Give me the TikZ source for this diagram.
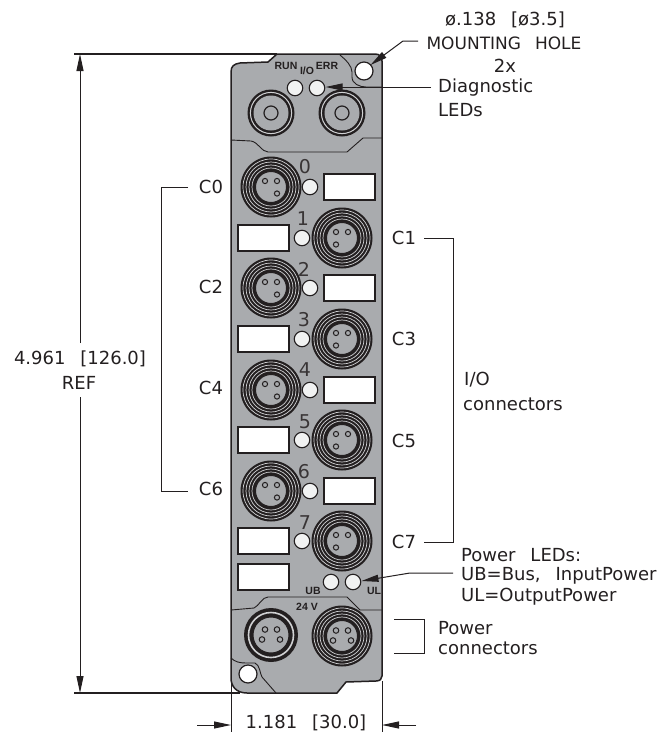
\documentclass[tikz,border=0pt]{standalone}
\usepackage{fontspec}
\setmainfont[WordSpace=2.6]{DejaVu Sans}
\newfontfamily\lblbold{Liberation Sans}
\usetikzlibrary{arrows.meta}
\definecolor{ink}{HTML}{231F20}
\definecolor{body}{HTML}{A9ABAE}
\definecolor{ledw}{HTML}{F1F2F2}
\definecolor{ringl}{HTML}{D0D1D3}
\tikzset{
 x=1pt,y=-1pt,
 dim/.style={draw=ink,line width=1pt},
 heavy/.style={draw=ink,line width=1.4pt},
 tip/.style={-{Triangle[length=17pt,width=7pt]}},
 lbl/.style={font=\fontsize{18}{18}\selectfont,text=ink,inner sep=0pt},
 lft/.style={lbl,anchor=west},
 tag/.style={font=\lblbold\bfseries\fontsize{10.5}{10.5}\selectfont,text=ink,inner sep=0pt},
 dig/.style={font=\fontsize{19}{19}\selectfont,text=ink!90,inner sep=0pt},
 led/.style={circle,draw=ink,line width=1.1pt,fill=ledw,minimum size=15.5pt,inner sep=0pt},
 slot/.style={draw=ink,line width=1.2pt,fill=white,minimum width=51pt,minimum height=26pt,inner sep=0pt},
 seam/.style={draw=ink,line width=.9pt,line join=round},
 pin/.style={draw=ink,line width=1pt,fill=body},
}
% #1 name, #2 x, #3 y, #4 x of the odd pin
\newcommand{\mconn}[4]{%
 \coordinate (#1) at (#2,#3);
 \fill[ink] (#2,#3) circle[radius=30.5];
 \foreach \r in {28,25,22,19}{\draw[ringl,line width=.7pt] (#2,#3) circle[radius=\r];}
 \fill[body] (#2,#3) circle[radius=15.5];
 \draw[ink,line width=1pt] (#2,#3) circle[radius=15.5];
 \draw[pin] ({#2-6},{#3-6}) circle[radius=2.6];
 \draw[pin] ({#2+6},{#3-6}) circle[radius=2.6];
 \draw[pin] ({#2+#4},{#3+6.5}) circle[radius=2.6];
}
\newcommand{\pins}[2]{%
 \foreach \a/\b in {-6/-5.5,6/-5.5,-9/4.5,9/4.5}{\draw[pin] ({#1+\a},{#2+\b}) circle[radius=2.8];}
}
\newcommand{\bigconn}[3]{%
 \coordinate (#1) at (#2,#3);
 \fill[ink] (#2,#3) circle[radius=23.5];
 \draw[ringl,line width=1pt] (#2,#3) circle[radius=20.6];
 \fill[body] (#2,#3) circle[radius=17.5];
 \draw[ink,line width=1.2pt,fill=body] (#2,#3) circle[radius=7];
}
\begin{document}
\begin{tikzpicture}
\useasboundingbox (0,0) rectangle (663,732);
% housing
\path[draw=ink,line width=1.5pt,fill=body,line join=round]
 (231,72) .. controls (231,66) and (234,64) .. (240,63) -- (268,62) -- (277,54) -- (375,54)
 .. controls (380,54) and (382,57) .. (382,61) -- (382,676)
 .. controls (382,679) and (380,681) .. (376,681) -- (346,682) -- (337,693) -- (247,693)
 .. controls (236,693) and (231,686) .. (231,678) -- cycle;
\draw[seam] (231,140) -- (251,141) .. controls (258,142) and (262,152) .. (268,152) -- (347,152) -- (363,138) -- (382,138);
\draw[seam] (340,55) .. controls (346,60) and (352,66) .. (352,72) -- (352,77) .. controls (352,84) and (360,87) .. (366,87) -- (382,87);
\draw[seam] (231,610) -- (254,608) .. controls (259,606) and (262,597) .. (268,597) -- (347,597) -- (360,610) -- (382,610);
\draw[seam] (231,658) .. controls (235,662) and (240,663) .. (246,663) -- (255,663) .. controls (260,665) and (260,674) .. (262,677) -- (276,693);
% top panel
\node[circle,draw=ink,line width=1.2pt,fill=white,minimum size=18pt,inner sep=0pt] (holeA) at (364,71) {};
\node[circle,draw=ink,line width=1.2pt,fill=white,minimum size=18pt,inner sep=0pt] (holeB) at (248,674) {};
\bigconn{topL}{271}{113}
\bigconn{topR}{342}{113}
\node[led] (run) at (295,88) {};
\node[led] (err) at (317,88) {};
\node[tag] (tagRun) at (286,66) {RUN};
\node[tag] (tagIO) at (307,71) {I/O};
\node[tag] (tagErr) at (327,66) {ERR};
% I/O connectors
\mconn{c0}{271}{187}{6}
\mconn{c2}{271}{288}{6}
\mconn{c4}{271}{390}{6}
\mconn{c6}{271}{491}{6}
\mconn{c1}{342}{238}{-6}
\mconn{c3}{342}{339}{-6}
\mconn{c5}{342}{440}{-6}
\mconn{c7}{342}{541}{-6}
\foreach \n/\y in {0/187,2/288,4/390,6/491}{
 \node[led] (led\n) at (310,\y) {};
 \node[slot] (slot\n) at (349.5,\y) {};
}
\foreach \n/\y in {1/238,3/339,5/440,7/541}{
 \node[led] (led\n) at (302,\y) {};
 \node[slot] (slot\n) at (263.5,\y) {};
}
\node[slot] (slot8) at (263.5,577) {};
\foreach \n/\x/\y in {0/305/167,1/303/219,2/304/269,3/304/320,4/305/370,5/305/422,6/304/472,7/305/523}{
 \node[dig] (dig\n) at (\x,\y) {\n};
}
% power area
\node[led] (ub) at (331,582) {};
\node[led] (ul) at (353,582) {};
\node[tag] (tagUB) at (313,591) {UB};
\node[tag] (tagUL) at (374,591) {UL};
\node[tag] (tag24) at (307,607) {24 V};
\coordinate (pwrL) at (271,635);
\fill[ink] (pwrL) circle[radius=27];
\draw[ringl,line width=1.6pt] (pwrL) circle[radius=22.5];
\fill[body] (pwrL) circle[radius=18];
\draw[ink,line width=1pt] (pwrL) circle[radius=18];
\pins{271}{635}
\coordinate (pwrR) at (342,636);
\fill[ink] (pwrR) circle[radius=30.5];
\foreach \r in {28,25,22,19}{\draw[ringl,line width=.7pt] (pwrR) circle[radius=\r];}
\fill[body] (pwrR) circle[radius=15.5];
\draw[ink,line width=1pt] (pwrR) circle[radius=15.5];
\pins{342}{636}
% labels
\node[lbl] (hole1) at (505,20) {ø.138 [ø3.5]};
\node[lbl,font=\fontsize{17}{17}\selectfont] (hole2) at (504,43) {MOUNTING HOLE};
\node[lbl] (hole3) at (505,66) {2x};
\node[lft] (diag1) at (438,88) {Diagnostic};
\node[lft] (diag2) at (438,110) {LEDs};
\foreach \n/\x/\y in {C0/211/187,C2/211/287,C4/211/388,C6/211/489,C1/404/238,C3/404/339,C5/404/441,C7/404/542}{
 \node[lbl] (lab\n) at (\x,\y) {\n};
}
\node[lft] (io1) at (464,380) {I/O};
\node[lft] (io2) at (463,404) {connectors};
\node[lft] (pl1) at (461,555) {Power LEDs:};
\node[lft] (pl2) at (461,576) {UB=Bus, InputPower};
\node[lft] (pl3) at (461,597) {UL=OutputPower};
\node[lft] (pc1) at (438,628) {Power};
\node[lft] (pc2) at (438,648) {connectors};
\node[lbl] (dimH1) at (80,359) {4.961 [126.0]};
\node[lbl] (dimH2) at (79,383) {REF};
\node[lbl] (dimW) at (306,723) {1.181 [30.0]};
% brackets
\coordinate (brL1) at (161,187); \coordinate (brL2) at (161,491);
\draw[dim] (188,187) -- (brL1) -- (brL2) -- (188,491);
\coordinate (brR1) at (453,238); \coordinate (brR2) at (453,542);
\draw[dim] (424,238) -- (brR1) -- (brR2) -- (424,542);
\coordinate (brP1) at (424,619); \coordinate (brP2) at (424,653);
\draw[dim] (394,619) -- (brP1) -- (brP2) -- (394,653);
% leaders
\coordinate (lm1) at (418,41); \coordinate (lm2) at (403,41);
\draw[dim,tip] (lm1) -- (lm2) -- (370.5,65);
\coordinate (ld1) at (431,87);
\draw[dim,tip] (ld1) -- (325.5,87);
\coordinate (lp1) at (453,573); \coordinate (lp2) at (410,573);
\draw[dim,tip] (lp1) -- (lp2) -- (361.5,581);
% dimensions
\coordinate (extT1) at (74,54); \coordinate (extT2) at (277,54);
\coordinate (extB1) at (74,693); \coordinate (extB2) at (240,693);
\draw[heavy] (extT1) -- (extT2);
\draw[heavy] (extB1) -- (extB2);
\coordinate (vT) at (80,54); \coordinate (vTe) at (80,343);
\coordinate (vB) at (80,693); \coordinate (vBe) at (80,397);
\draw[dim,tip] (vTe) -- (vT);
\draw[dim,tip] (vBe) -- (vB);
\coordinate (extL) at (231,684); \coordinate (extLb) at (231,732);
\coordinate (extR) at (382,681); \coordinate (extRb) at (382,732);
\draw[dim] (extL) -- (extLb);
\draw[dim] (extR) -- (extRb);
\coordinate (wL0) at (197,725); \coordinate (wL) at (231,725);
\coordinate (wR0) at (416,725); \coordinate (wR) at (382,725);
\draw[dim,tip] (wL0) -- (wL);
\draw[dim,tip] (wR0) -- (wR);
\end{tikzpicture}
\end{document}
